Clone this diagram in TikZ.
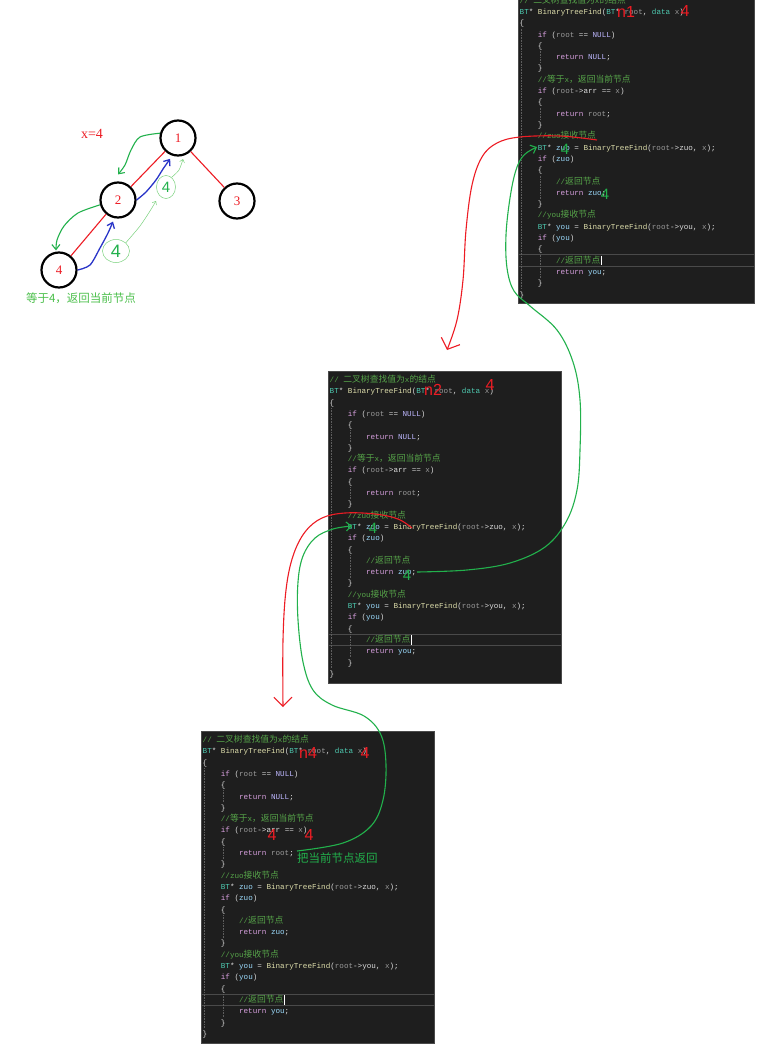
\documentclass[tikz,border=0pt]{standalone}
\usepackage{fontspec}
\setmainfont{Liberation Serif}
\setsansfont{Liberation Sans}
\setmonofont{Liberation Mono}
\newfontfamily\cjk{Noto Sans CJK SC}
\usetikzlibrary{arrows.meta,shapes.geometric}

\definecolor{panelbg}{HTML}{1E1E1E}
\definecolor{panelrim}{HTML}{4A4A4A}
\definecolor{guidegray}{HTML}{5E5E5E}
\definecolor{ctext}{HTML}{DCDCDC}
\definecolor{ctype}{HTML}{4EC9B0}
\definecolor{cfunc}{HTML}{DCDCAA}
\definecolor{ckey}{HTML}{D8A0DF}
\definecolor{cmacro}{HTML}{BEB7FF}
\definecolor{cvar}{HTML}{9CDCFE}
\definecolor{cparam}{HTML}{9A9A9A}
\definecolor{ccom}{HTML}{57A64A}
\definecolor{penred}{HTML}{ED1C24}
\definecolor{pengreen}{HTML}{22B14C}
\definecolor{penblue}{HTML}{2A35C8}
\definecolor{penlight}{HTML}{7BD27E}
\definecolor{notegreen}{HTML}{4ABF4A}

\newcommand\tokT[1]{\textcolor{ctype}{#1}}
\newcommand\tokF[1]{\textcolor{cfunc}{#1}}
\newcommand\tokK[1]{\textcolor{ckey}{#1}}
\newcommand\tokN[1]{\textcolor{cmacro}{#1}}
\newcommand\tokV[1]{\textcolor{cvar}{#1}}
\newcommand\tokP[1]{\textcolor{cparam}{#1}}
\newcommand\tokC[1]{\textcolor{ccom}{#1}}
\newcommand\zh[1]{{\cjk\fontsize{8.8}{9}\selectfont #1}}

\begin{document}
\begin{tikzpicture}[x=1pt,y=-1pt,
  code/.style={anchor=west,inner sep=0pt,text height=7pt,text depth=2pt,
    font=\ttfamily\fontsize{7.6}{9}\selectfont,text=ctext},
  guide/.style={guidegray,densely dotted,line width=0.6pt},
  rowline/.style={draw=panelrim,line width=0.9pt},
  treenode/.style={circle,draw=black,line width=2.2pt,minimum size=35pt,
    inner sep=0pt,text=penred,font=\fontsize{13}{13}\selectfont},
  redpen/.style={draw=penred,line width=1.1pt},
  greenpen/.style={draw=pengreen,line width=1.1pt},
  bluepen/.style={draw=penblue,line width=1.3pt},
  lightpen/.style={draw=penlight,line width=0.5pt},
  bubble/.style={ellipse,draw=penlight,line width=0.5pt,inner sep=0pt,
    text=pengreen,font=\sffamily\fontsize{18}{18}\selectfont},
  redmark/.style={text=penred,inner sep=0pt,font=\sffamily\fontsize{16}{16}\selectfont},
  greenmark/.style={text=pengreen,inner sep=0pt,font=\sffamily\fontsize{15}{15}\selectfont}]
  \useasboundingbox[fill=white] (0,0) rectangle (773,1046);

  \foreach \p/\px/\py/\pw in {a/518/0.7/236,b/328/380/233,c/201/740/233}{
    \fill[panelbg] (\px,\py-9) rectangle (\px+\pw,\py+303);
    \draw[panelrim,line width=1pt] (\px,\py-9) rectangle (\px+\pw,\py+303);
    \draw[rowline] (\px,\py+254) -- (\px+\pw,\py+254);
    \draw[rowline] (\px,\py+265.5) -- (\px+\pw,\py+265.5);
    \draw[guide] (\px+3.5,\py+28) -- (\px+3.5,\py+288);
    \draw[guide] (\px+22,\py+50) -- (\px+22,\py+62);
    \draw[guide] (\px+22,\py+107) -- (\px+22,\py+119);
    \draw[guide] (\px+22,\py+175) -- (\px+22,\py+198);
    \draw[guide] (\px+22,\py+254) -- (\px+22,\py+277);
    \node[code] (\p-0) at (\px+1.5,\py) {\tokC{// \zh{二叉树查找值为}x\zh{的结点}}};
    \node[code] (\p-1) at (\px+1.5,\py+11.3) {\tokT{BT}* \tokF{BinaryTreeFind}(\tokT{BT}* \tokP{root}, \tokT{data} \tokP{x})};
    \node[code] (\p-2) at (\px+1.5,\py+22.6) {\{};
    \node[code] (\p-3) at (\px+19.7,\py+33.9) {\tokK{if} (\tokP{root} == \tokN{NULL})};
    \node[code] (\p-4) at (\px+19.7,\py+45.2) {\{};
    \node[code] (\p-5) at (\px+37.9,\py+56.5) {\tokK{return} \tokN{NULL};};
    \node[code] (\p-6) at (\px+19.7,\py+67.8) {\}};
    \node[code] (\p-7) at (\px+19.7,\py+79.1) {\tokC{//\zh{等于}x\zh{，返回当前节点}}};
    \node[code] (\p-8) at (\px+19.7,\py+90.4) {\tokK{if} (\tokP{root}->arr == \tokP{x})};
    \node[code] (\p-9) at (\px+19.7,\py+101.7) {\{};
    \node[code] (\p-10) at (\px+37.9,\py+113) {\tokK{return} \tokP{root};};
    \node[code] (\p-11) at (\px+19.7,\py+124.3) {\}};
    \node[code] (\p-12) at (\px+19.7,\py+135.6) {\tokC{//zuo\zh{接收节点}}};
    \node[code] (\p-13) at (\px+19.7,\py+146.9) {\tokT{BT}* \tokV{zuo} = \tokF{BinaryTreeFind}(\tokP{root}->zuo, \tokP{x});};
    \node[code] (\p-14) at (\px+19.7,\py+158.2) {\tokK{if} (\tokV{zuo})};
    \node[code] (\p-15) at (\px+19.7,\py+169.5) {\{};
    \node[code] (\p-16) at (\px+37.9,\py+180.8) {\tokC{//\zh{返回节点}}};
    \node[code] (\p-17) at (\px+37.9,\py+192.1) {\tokK{return} \tokV{zuo};};
    \node[code] (\p-18) at (\px+19.7,\py+203.4) {\}};
    \node[code] (\p-19) at (\px+19.7,\py+214.7) {\tokC{//you\zh{接收节点}}};
    \node[code] (\p-20) at (\px+19.7,\py+226) {\tokT{BT}* \tokV{you} = \tokF{BinaryTreeFind}(\tokP{root}->you, \tokP{x});};
    \node[code] (\p-21) at (\px+19.7,\py+237.3) {\tokK{if} (\tokV{you})};
    \node[code] (\p-22) at (\px+19.7,\py+248.6) {\{};
    \node[code] (\p-23) at (\px+37.9,\py+259.9) {\tokC{//\zh{返回节点}}};
    \node[code] (\p-24) at (\px+37.9,\py+271.2) {\tokK{return} \tokV{you};};
    \node[code] (\p-25) at (\px+19.7,\py+282.5) {\}};
    \node[code] (\p-26) at (\px+1.5,\py+293.8) {\}};
    \draw[white,line width=0.6pt] ([xshift=1pt]\p-23.north east) -- ([xshift=1pt]\p-23.south east);
  }

  \node[treenode] (n1) at (178,138) {1};
  \node[treenode] (n2) at (118,200) {2};
  \node[treenode] (n3) at (237,201) {3};
  \node[treenode] (n4) at (59,270) {4};
  \node[text=penred,font=\fontsize{14}{14}\selectfont] (xval) at (92,134) {x=4};
  \draw[redpen] (n1) -- (n2);
  \draw[redpen] (n1) -- (n3);
  \draw[redpen] (n2) -- (n4);
  \draw[greenpen,-{Straight Barb[length=5pt,width=8pt]}] plot[smooth] coordinates {(n1.165) (140,137) (131,150) (125,165) ([yshift=7pt]n2.north)};
  \draw[greenpen,-{Straight Barb[length=5pt,width=8pt]}] plot[smooth] coordinates {(n2.195) (78,213) (64,226) (57,240) ([xshift=-3pt,yshift=1pt]n4.north)};
  \draw[bluepen,-{Straight Barb[length=5pt,width=8pt]}] plot[smooth] coordinates {(n4.east) (90,265) (100,248) (108,233) ([shift={(-5pt,-3pt)}]n2.south)};
  \draw[bluepen,-{Straight Barb[length=5pt,width=8pt]}] plot[smooth] coordinates {(n2.east) (146,192) (156,180) (163,169) ([yshift=-4pt]n1.245)};
  \node[bubble,minimum width=27pt,minimum height=23pt] (b1) at (116,251) {4};
  \node[bubble,minimum width=19pt,minimum height=23pt,font=\sffamily\fontsize{15}{15}\selectfont] (b2) at (166,187) {4};
  \coordinate (t1) at (156,201);
  \coordinate (t2) at (183,159);
  \draw[lightpen,-{Straight Barb[length=3pt,width=5pt]}] plot[smooth] coordinates {(b1.40) (140,226) (150,211) (t1)};
  \draw[lightpen,-{Straight Barb[length=3pt,width=5pt]}] plot[smooth] coordinates {(b2.60) (179,170) (t2)};
  \node[text=notegreen,font=\cjk\fontsize{11.5}{12}\selectfont] (note) at (81,298) {等于4，返回当前节点};

  \node[redmark] (ma1) at (626,12) {n1};
  \node[redmark] (ma2) at (685,11) {4};
  \node[redmark] (mb1) at (433,390) {n2};
  \node[redmark] (mb2) at (490,385) {4};
  \node[redmark] (mc1) at (308,753) {n4};
  \node[redmark] (mc2) at (365,753) {4};
  \node[redmark] (mc3) at (272,835) {4};
  \node[redmark] (mc4) at (309,835) {4};
  \node[greenmark] (ga1) at (565,149) {4};
  \node[greenmark] (ga2) at (605,194) {4};
  \node[greenmark] (gb1) at (373,528) {4};
  \node[greenmark] (gb2) at (407,575) {4};
  \node[anchor=west,text=pengreen,inner sep=0pt,font=\cjk\fontsize{11.5}{12}\selectfont] (back) at (297,858) {把当前节点返回};

  \coordinate (r1s) at (597,140);
  \coordinate (r1e) at (447,350);
  \coordinate (r2s) at (412,528);
  \coordinate (r2e) at (283,707);
  \coordinate (g1s) at (297,851);
  \coordinate (g1e) at (352,526);
  \coordinate (g2s) at (417,572);
  \coordinate (g2e) at (537,147);
  \draw[redpen,-{Straight Barb[length=9pt,width=20pt]}] plot[smooth,tension=0.6] coordinates {(r1s) (560,136) (520,137) (497,143) (482,157) (472,185) (466,230) (463,280) (457,320) (r1e)};
  \draw[redpen,-{Straight Barb[length=9pt,width=18pt]}] plot[smooth,tension=0.6] coordinates {(r2s) (398,519) (375,514) (345,513) (322,518) (305,532) (293,556) (286,590) (283,640) (r2e)};
  \draw[greenpen,-{Straight Barb[length=5pt,width=9pt]}] plot[smooth,tension=0.6] coordinates {(g1s) (343,843) (371,826) (383,800) (386,765) (381,735) (364,716) (332,705) (313,690) (303,662) (298,620) (298,582) (303,556) (315,538) (333,529) (g1e)};
  \draw[greenpen,-{Straight Barb[length=5pt,width=9pt]}] plot[smooth,tension=0.6] coordinates {(g2s) (467,570) (510,563) (545,547) (566,522) (577,490) (580,450) (580,400) (573,362) (557,330) (530,306) (514,291) (507,268) (506,235) (510,198) (516,170) (524,155) (g2e)};
\end{tikzpicture}
\end{document}
